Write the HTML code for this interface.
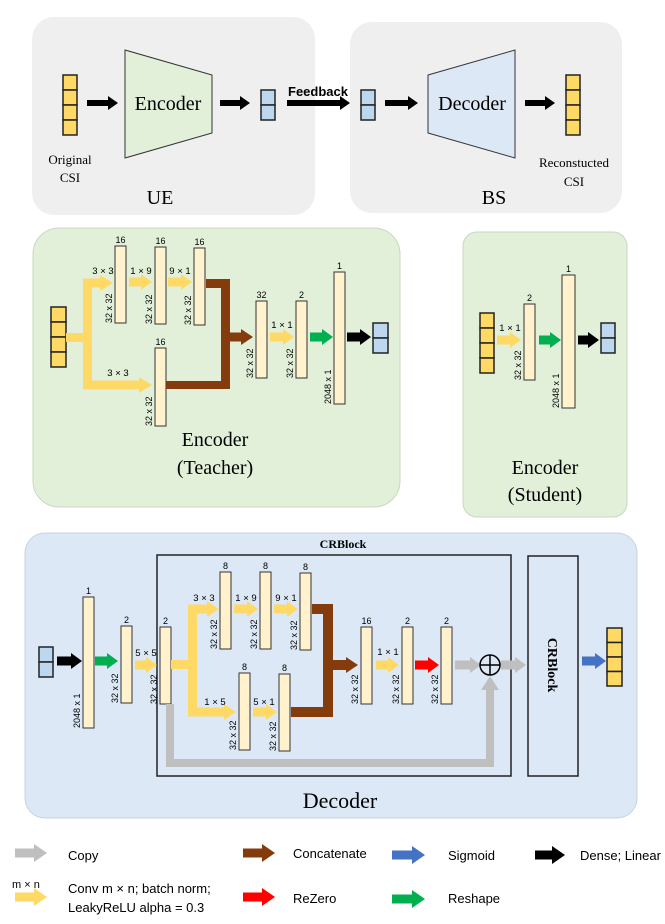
<!DOCTYPE html>
<html><head><meta charset="utf-8"><style>
body{margin:0;background:#fff;}
svg{display:block;font-family:"Liberation Sans",sans-serif;}
.s{font-family:"Liberation Serif",serif;}
</style></head><body>
<svg id="g" width="665" height="924" viewBox="0 0 665 924" xmlns="http://www.w3.org/2000/svg">
<rect x="32" y="17" width="283" height="198" rx="22" fill="#efefef"/>
<rect x="350" y="22" width="272" height="191" rx="22" fill="#efefef"/>
<rect x="33" y="228" width="367" height="279" rx="26" fill="#e2efd9" stroke="#c8d8c0"/>
<rect x="463" y="232" width="164" height="285" rx="14" fill="#e2efd9" stroke="#c8d8c0"/>
<rect x="25" y="533" width="612" height="285" rx="20" fill="#dce8f5" stroke="#c5d3e3"/>
<polygon points="125,50 212,75 212,133 125,158" fill="#e2efd9" stroke="#333"/>
<polygon points="428,75 515,50 515,158 428,133" fill="#dce8f5" stroke="#333"/>
<text x="168" y="110" class="s" font-size="20" text-anchor="middle">Encoder</text>
<text x="472" y="110" class="s" font-size="20" text-anchor="middle">Decoder</text>
<text x="318" y="96" font-size="13" font-weight="bold" text-anchor="middle">Feedback</text>
<text x="70" y="164" class="s" font-size="13" text-anchor="middle">Original</text>
<text x="70" y="182" class="s" font-size="13" text-anchor="middle">CSI</text>
<text x="574" y="167" class="s" font-size="13" text-anchor="middle">Reconstucted</text>
<text x="574" y="186" class="s" font-size="13" text-anchor="middle">CSI</text>
<text x="160" y="204" class="s" font-size="20" text-anchor="middle">UE</text>
<text x="494" y="204" class="s" font-size="20" text-anchor="middle">BS</text>
<text x="215" y="446" class="s" font-size="20" text-anchor="middle">Encoder</text>
<text x="215" y="474" class="s" font-size="20" text-anchor="middle">(Teacher)</text>
<text x="545" y="474" class="s" font-size="20" text-anchor="middle">Encoder</text>
<text x="545" y="501" class="s" font-size="20" text-anchor="middle">(Student)</text>
<text x="343" y="548" class="s" font-size="12" font-weight="bold" text-anchor="middle">CRBlock</text>
<rect x="157" y="555" width="354" height="221" fill="none" stroke="#222" stroke-width="1.5"/>
<rect x="528" y="556" width="50" height="220" fill="none" stroke="#222" stroke-width="1.5"/>
<text transform="translate(548,665) rotate(90)" class="s" font-size="14" font-weight="bold" text-anchor="middle">CRBlock</text>
<text x="340" y="808" class="s" font-size="22" text-anchor="middle">Decoder</text>
<!-- legend text -->
<text x="68" y="860" font-size="13">Copy</text>
<text x="293" y="858" font-size="13">Concatenate</text>
<text x="448" y="860" font-size="13">Sigmoid</text>
<text x="580" y="860" font-size="13">Dense; Linear</text>
<text x="12" y="888" font-size="11">m × n</text>
<text x="68" y="893" font-size="13">Conv m × n; batch norm;</text>
<text x="68" y="912" font-size="13">LeakyReLU alpha = 0.3</text>
<text x="293" y="903" font-size="13">ReZero</text>
<text x="448" y="903" font-size="13">Reshape</text>
<g id="dyn"></g>
</svg>
<script>
var g=document.getElementById('dyn'),h='';
var Y='#ffd966',B='#843c0c',K='#000',GR='#00b050',R='#ff0000',BL='#4472c4',G='#bfbfbf';
function ar(x1,x2,y,c,t,hh,hl){t=t||8;hh=hh||17;hl=hl||11;h+='<polygon fill="'+c+'" points="'+x1+','+(y-t/2)+' '+(x2-hl)+','+(y-t/2)+' '+(x2-hl)+','+(y-hh/2)+' '+x2+','+y+' '+(x2-hl)+','+(y+hh/2)+' '+(x2-hl)+','+(y+t/2)+' '+x1+','+(y+t/2)+'"/>';}
function col(x,y1,y2,top,side,w){w=w||11;h+='<rect x="'+x+'" y="'+y1+'" width="'+w+'" height="'+(y2-y1)+'" fill="#fff2cc" stroke="#333"/>';
 if(top)h+='<text x="'+(x+w/2)+'" y="'+(y1-3)+'" font-size="9" text-anchor="middle">'+top+'</text>';
 if(side)h+='<text transform="translate('+(x-3)+','+(y2)+') rotate(-90)" font-size="9">'+side+'</text>';}
function vec(x,y,n,c,w,ch){w=w||14;ch=ch||15;for(var i=0;i<n;i++)h+='<rect x="'+x+'" y="'+(y+i*ch)+'" width="'+w+'" height="'+ch+'" fill="'+c+'" stroke="#222" stroke-width="1.5"/>';}
function lb(x,y,t){h+='<text x="'+x+'" y="'+y+'" font-size="9.5" text-anchor="middle">'+t+'</text>';}
function rect(x,y,w,hh,c){h+='<rect x="'+x+'" y="'+y+'" width="'+w+'" height="'+hh+'" fill="'+c+'"/>';}
// top
vec(63,75,4,'#ffd966');ar(87,118,103,K,6,14,10);ar(220,250,103,K,6,14,10);vec(261,90,2,'#bdd7ee');
ar(287,350,103,K,6,14,10);vec(361,90,2,'#bdd7ee');ar(385,418,103,K,6,14,10);ar(525,555,103,K,6,14,10);vec(566,75,4,'#ffd966');
// teacher
vec(51,307,4,'#ffd966',15,15);
rect(66,333,22,9,Y);rect(83,279,9,110,Y);ar(83,113,283,Y,9,16,13);ar(83,152,385,Y,9,16,13);
col(115,246,323,'16','32 x 32');col(155,247,324,'16','32 x 32');col(194,248,325,'16','32 x 32');col(155,348,426,'16','32 x 32');
ar(129,152,282,Y,9,16,11);ar(168,192,282,Y,9,16,11);
lb(103,274,'3 × 3');lb(141,274,'1 × 9');lb(180,274,'9 × 1');lb(118,376,'3 × 3');
rect(206,279,23,9,B);rect(221,279,9,110,B);rect(166,381,64,8,B);ar(221,253,337,B,9,16,12);
col(256,301,378,'32','32 x 32');col(296,301,378,'2','32 x 32');col(334,272,404,'1','2048 x 1');
ar(270,294,337,Y,9,16,11);lb(282,328,'1 × 1');ar(310,333,337,GR,9,16,11);ar(347,371,337,K,9,16,11);
vec(373,323,2,'#bdd7ee',15,15);
// student
vec(480,313,4,'#ffd966',14,15);ar(497,521,340,Y,9,16,11);lb(510,331,'1 × 1');
col(524,304,380,'2','32 x 32');ar(539,561,340,GR,9,16,11);col(562,275,408,'1','2048 x 1',13);ar(578,599,340,K,9,16,11);vec(601,323,2,'#bdd7ee',14,15);
// decoder
vec(39,647,2,'#bdd7ee',14,15);ar(57,82,661,K,9,16,11);col(83,597,728,'1','2048 x 1');ar(95,118,661,GR,9,16,11);
col(121,626,703,'2','32 x 32');ar(135,157,665,Y,9,16,11);lb(146,656,'5 × 5');col(160,627,704,'2','32 x 32');
rect(171,660,22,9,Y);rect(188,605,9,111,Y);ar(188,219,609,Y,9,16,12);ar(188,236,712,Y,9,16,12);
col(220,572,649,'8','32 x 32');col(260,572,649,'8','32 x 32');col(300,573,650,'8','32 x 32');
ar(234,258,609,Y,9,16,11);ar(274,298,609,Y,9,16,11);lb(204,601,'3 × 3');lb(246,601,'1 × 9');lb(286,601,'9 × 1');
col(239,673,750,'8','32 x 32');col(279,674,751,'8','32 x 32');ar(253,277,712,Y,9,16,11);lb(215,705,'1 × 5');lb(264,705,'5 × 1');
rect(312,604,21,10,B);rect(323,604,10,113,B);rect(291,707,42,10,B);ar(323,358,665,B,10,16,12);
col(361,627,704,'16','32 x 32');ar(376,399,665,Y,9,16,11);lb(388,655,'1 × 1');col(402,627,704,'2','32 x 32');
ar(415,439,665,R,9,16,11);col(441,627,704,'2','32 x 32');ar(455,481,665,G,9,16,11);
h+='<circle cx="490" cy="665" r="10" fill="none" stroke="#000" stroke-width="1.5"/><line x1="480" y1="665" x2="500" y2="665" stroke="#000" stroke-width="1.5"/><line x1="490" y1="655" x2="490" y2="675" stroke="#000" stroke-width="1.5"/>';
ar(501,526,665,G,9,16,11);
rect(166,704,8,63,G);rect(166,759,328,8,G);rect(486,689,8,78,G);h+='<polygon fill="'+G+'" points="481,690 490,676 499,690"/>';
ar(582,606,661,BL,9,16,11);vec(607,628,4,'#ffd966',15,14.5);
// legend
ar(15,47,853,G,9,18,13);ar(243,275,853,B,9,18,13);ar(392,425,855,BL,9,18,13);ar(535,565,855,K,9,18,13);
ar(15,47,897,Y,9,18,13);ar(243,275,897,R,9,18,13);ar(392,425,899,GR,9,18,13);
g.innerHTML=h;
</script>
</body></html>
